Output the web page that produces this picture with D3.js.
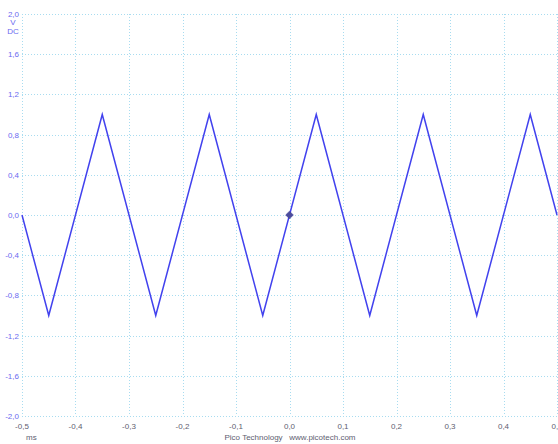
<!DOCTYPE html>
<html>
<head>
<meta charset="utf-8">
<script src="https://cdn.jsdelivr.net/npm/d3@7"></script>
<style>
  body { margin: 0; background: #fff; }
  svg { display: block; }
  text { font-family: "Liberation Sans", Arial, sans-serif; font-size: 8px; }
</style>
</head>
<body>
<figure id="scope" style="margin:0"></figure>
<script>
// waveform vertices (time in ms, volts)
const times  = [-0.5, -0.45, -0.35, -0.25, -0.15, -0.05, 0.05, 0.15, 0.25, 0.35, 0.45, 0.5];
const volts  = [ 0.0, -1.0,   1.0,  -1.0,   1.0,  -1.0,  1.0, -1.0,  1.0, -1.0,  1.0, 0.0];
const xTicks = [-0.5, -0.4, -0.3, -0.2, -0.1, 0.0, 0.1, 0.2, 0.3, 0.4, 0.5];
const yTicks = [2.0, 1.6, 1.2, 0.8, 0.4, 0.0, -0.4, -0.8, -1.2, -1.6, -2.0];
const trigger = {t: 0.0, v: 0.0};

const width = 558, height = 444;
const plotL = 22, plotR = 557, plotT = 14, plotB = 416;

const svg = d3.select("figure#scope")
  .append("svg")
  .attr("width", width)
  .attr("height", height);

const x = d3.scaleLinear().domain([-0.5, 0.5]).range([plotL, plotR]);
const y = d3.scaleLinear().domain([-2.0, 2.0]).range([plotB, plotT]);

const fmt = v => d3.format(".1f")(v).replace(".", ",").replace("−", "-");

// grid
const grid = svg.append("g")
  .attr("stroke", "#a8dcf0")
  .attr("stroke-width", 1)
  .attr("stroke-dasharray", "1,2");
grid.selectAll("line.v")
  .data(xTicks)
  .enter()
  .append("line")
  .attr("x1", d => Math.round(x(d)) + 0.5)
  .attr("x2", d => Math.round(x(d)) + 0.5)
  .attr("y1", plotT)
  .attr("y2", plotB);
grid.selectAll("line.h")
  .data(yTicks)
  .enter()
  .append("line")
  .attr("x1", plotL)
  .attr("x2", plotR)
  .attr("y1", d => Math.round(y(d)) + 0.5)
  .attr("y2", d => Math.round(y(d)) + 0.5);

// y labels
svg.append("g").selectAll("text")
  .data(yTicks)
  .enter()
  .append("text")
  .attr("x", 19)
  .attr("y", d => y(d) + 3)
  .attr("text-anchor", "end")
  .attr("fill", "#6a6af0")
  .text(d => fmt(d));
svg.append("text").attr("x", 13).attr("y", 25).attr("text-anchor", "middle").attr("fill", "#6a6af0").text("V");
svg.append("text").attr("x", 13).attr("y", 34).attr("text-anchor", "middle").attr("fill", "#6a6af0").text("DC");

// x labels
svg.append("g").selectAll("text")
  .data(xTicks)
  .enter()
  .append("text")
  .attr("x", d => x(d))
  .attr("y", 429)
  .attr("text-anchor", "middle")
  .attr("fill", "#606070")
  .text(d => fmt(d));
svg.append("text").attr("x", 26).attr("y", 440).attr("fill", "#606070").text("ms");
svg.append("text").attr("x", 290).attr("y", 440).attr("text-anchor", "middle").attr("fill", "#606070")
  .style("white-space", "pre")
  .text("Pico Technology   www.picotech.com");

// trace
const line = d3.line()
  .x((d, i) => x(times[i]))
  .y(d => y(d));
svg.append("path")
  .datum(volts)
  .attr("fill", "none")
  .attr("stroke", "#4242ee")
  .attr("stroke-width", 1.5)
  .attr("stroke-linejoin", "miter")
  .attr("d", line);

// trigger marker
svg.append("path")
  .attr("d", d3.symbol(d3.symbolSquare, 30)())
  .attr("transform", "translate(" + x(trigger.t) + "," + y(trigger.v) + ") rotate(45)")
  .attr("fill", "#4c4c9c")
  .attr("stroke", "#3a3a90")
  .attr("stroke-width", 0.5);
</script>
</body>
</html>
